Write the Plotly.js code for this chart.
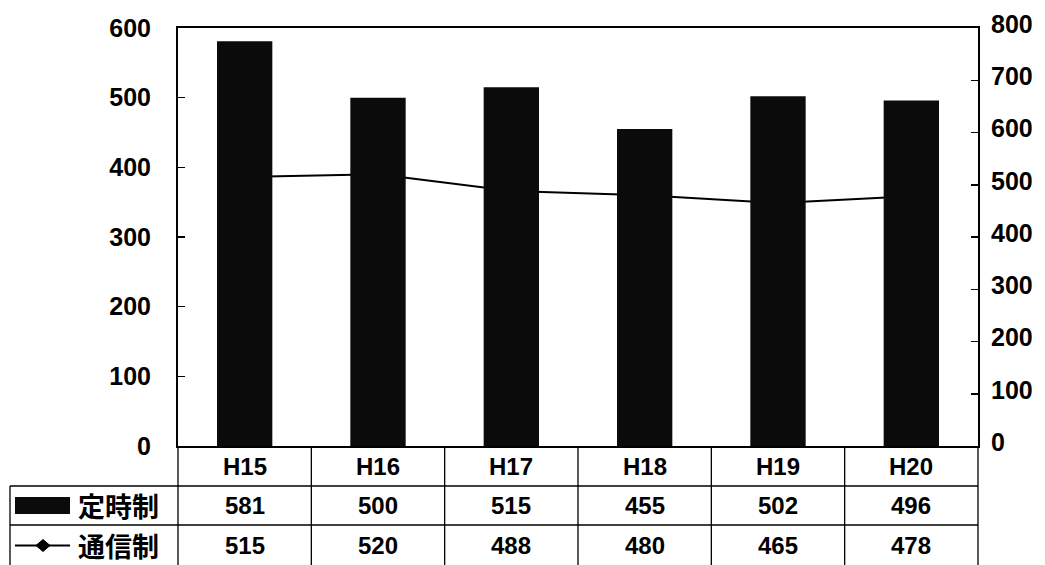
<!DOCTYPE html>
<html>
<head>
<meta charset="utf-8">
<script src="https://cdn.plot.ly/plotly-3.0.1.min.js"></script>
<style>
  html, body { margin: 0; padding: 0; background: #fff; }
  #chart { width: 1045px; height: 565px; }
</style>
</head>
<body>
<div id="chart"></div>
<script>
// 年度別生徒数（定時制・通信制）
const years = ['H15', 'H16', 'H17', 'H18', 'H19', 'H20'];
const teijiValues = [581, 500, 515, 455, 502, 496];   // 定時制（左軸）
const tsushinValues = [515, 520, 488, 480, 465, 478]; // 通信制（右軸）
const seriesNames = ['定時制', '通信制'];

const numFont = { family: 'Liberation Sans, Arial, sans-serif', size: 24, color: '#000', weight: 'bold' };
const jpFont = { family: 'Noto Sans CJK JP, sans-serif', size: 27, color: '#000', weight: 'bold' };

// paper-coordinate helpers for the data table under the plot
const plotLeft = 178, plotRight = 978, plotTop = 28, plotBottom = 446;
const px = v => (v - plotLeft) / (plotRight - plotLeft);
const py = v => (plotBottom - v) / (plotBottom - plotTop);

const rowHeader = py(466), rowTeiji = py(505.5), rowTsushin = py(545.5);
const yRow1 = py(486), yRow2 = py(525), yBottom = py(565);

// 通信制 line sits on the primary axis so the bars overlay it
const lineTrace = {
  type: 'scatter', mode: 'lines+markers', name: seriesNames[1],
  x: years, y: tsushinValues, xaxis: 'x', yaxis: 'y',
  line: { color: '#000', width: 2 },
  marker: { symbol: 'diamond', size: 9, color: '#000' },
  hoverinfo: 'skip'
};
const barTrace = {
  type: 'bar', name: seriesNames[0],
  x: years, y: teijiValues, xaxis: 'x', yaxis: 'y2',
  marker: { color: '#0b0b0b', line: { width: 0 } },
  hoverinfo: 'skip'
};

const shapes = [];
const line = (x0, y0, x1, y1, xref) => ({
  type: 'line', xref: xref || 'paper', yref: 'paper',
  x0: x0, y0: y0, x1: x1, y1: y1, line: { color: '#000', width: 1.3 }
});
// column separators between categories
for (let i = 0; i < years.length - 1; i++) {
  shapes.push(line(i + 0.5, 0, i + 0.5, yBottom, 'x'));
}
// table outer edges
shapes.push(line(0, 0, 0, yBottom));
shapes.push(line(1, 0, 1, yBottom));
shapes.push(line(px(10), yRow1, 1, yRow1));
shapes.push(line(px(10), yRow2, 1, yRow2));
shapes.push(line(px(10), yRow1, px(10), yBottom));
// legend keys inside the table
shapes.push({
  type: 'rect', xref: 'paper', yref: 'paper',
  x0: px(15), x1: px(70), y0: py(514), y1: py(497),
  fillcolor: '#0b0b0b', line: { width: 0 }
});
shapes.push({
  type: 'line', xref: 'paper', yref: 'paper',
  x0: px(15), x1: px(70), y0: rowTsushin, y1: rowTsushin,
  line: { color: '#000', width: 2 }
});
const dcx = px(43), dcy = rowTsushin, dw = 7 / 800, dh = 6 / 418;
shapes.push({
  type: 'path', xref: 'paper', yref: 'paper',
  path: `M ${dcx - dw} ${dcy} L ${dcx} ${dcy + dh} L ${dcx + dw} ${dcy} L ${dcx} ${dcy - dh} Z`,
  fillcolor: '#000', line: { color: '#000', width: 1 }
});

const annotations = [];
years.forEach((yr, i) => {
  annotations.push({ x: yr, xref: 'x', y: rowHeader, yref: 'paper', text: yr,
    showarrow: false, font: numFont, xanchor: 'center', yanchor: 'middle' });
  annotations.push({ x: yr, xref: 'x', y: rowTeiji, yref: 'paper', text: String(teijiValues[i]),
    showarrow: false, font: numFont, xanchor: 'center', yanchor: 'middle' });
  annotations.push({ x: yr, xref: 'x', y: rowTsushin, yref: 'paper', text: String(tsushinValues[i]),
    showarrow: false, font: numFont, xanchor: 'center', yanchor: 'middle' });
});
annotations.push({ x: px(76), xref: 'paper', y: rowTeiji, yref: 'paper', text: seriesNames[0],
  showarrow: false, font: jpFont, xanchor: 'left', yanchor: 'middle' });
annotations.push({ x: px(76), xref: 'paper', y: rowTsushin, yref: 'paper', text: seriesNames[1],
  showarrow: false, font: jpFont, xanchor: 'left', yanchor: 'middle' });

const tickFont = { family: 'Liberation Sans, Arial, sans-serif', size: 25, color: '#000', weight: 'bold' };

const layout = {
  width: 1045, height: 565,
  margin: { l: plotLeft, r: 1045 - plotRight, t: plotTop, b: 565 - plotBottom, pad: 0 },
  paper_bgcolor: '#fff', plot_bgcolor: 'rgba(0,0,0,0)',
  showlegend: false,
  bargap: 0.585,
  xaxis: {
    type: 'category', showticklabels: false, ticks: '',
    showline: true, mirror: true, linecolor: '#000', linewidth: 2,
    showgrid: false, zeroline: false, fixedrange: true
  },
  yaxis: {
    side: 'right', range: [0, 800], dtick: 100, tick0: 0,
    ticks: 'inside', ticklen: 7, tickcolor: '#000', tickwidth: 1.5,
    showline: true, linecolor: '#000', linewidth: 2,
    showgrid: false, zeroline: false, tickfont: tickFont,
    ticklabelstandoff: 6, ticklabelshift: -4
  },
  yaxis2: {
    overlaying: 'y', side: 'left', range: [0, 600], dtick: 100, tick0: 0,
    ticks: 'inside', ticklen: 7, tickcolor: '#000', tickwidth: 1.5,
    showline: true, linecolor: '#000', linewidth: 2,
    showgrid: false, zeroline: false, tickfont: tickFont,
    ticklabelstandoff: 20
  },
  shapes: shapes,
  annotations: annotations
};

Plotly.newPlot('chart', [lineTrace, barTrace], layout, { displayModeBar: false, staticPlot: true });
</script>
</body>
</html>
